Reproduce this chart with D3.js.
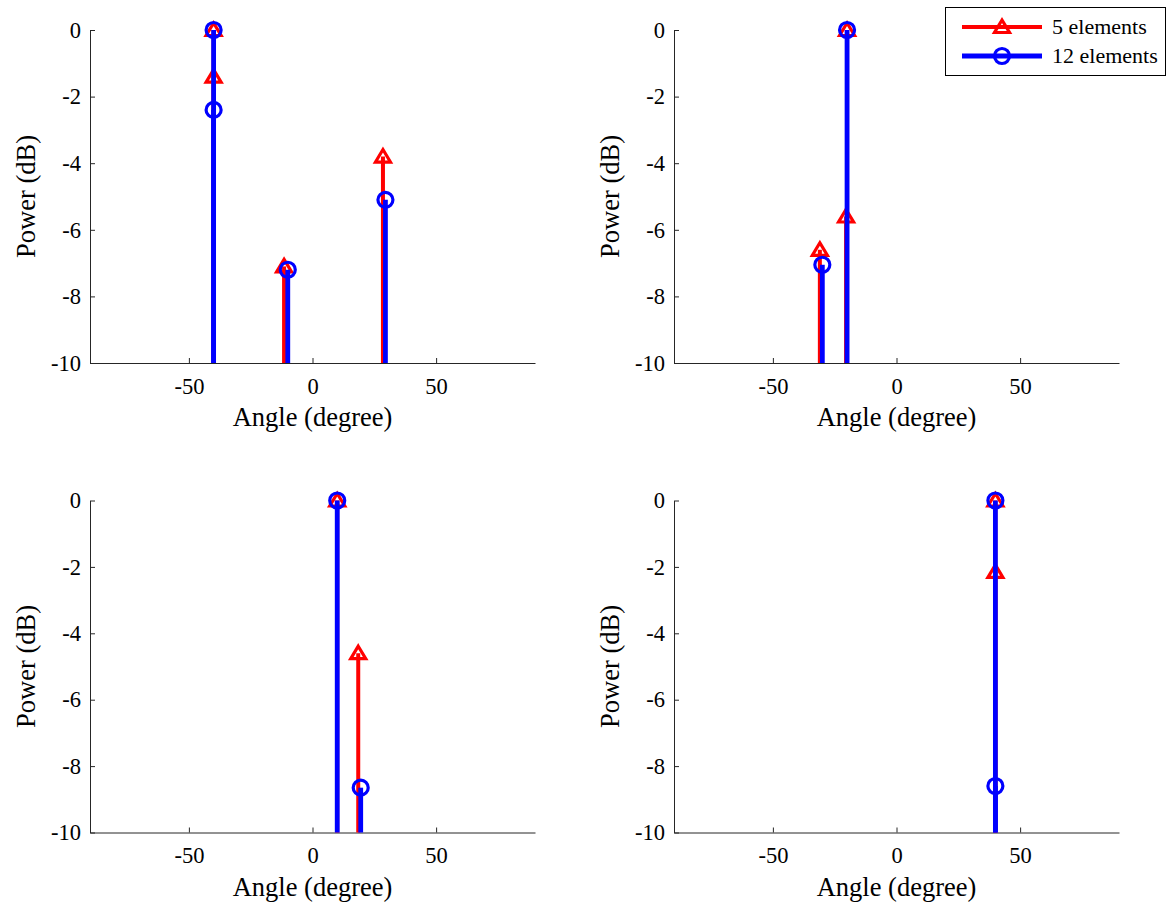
<!DOCTYPE html>
<meta charset="utf-8">
<title>Power vs angle</title>
<script src="https://cdn.jsdelivr.net/npm/d3@7"></script>
<style>
    body { margin: 0; background: #fff; }
    svg { font-family: "Liberation Serif", "Times New Roman", serif; }
    .axis path, .axis line { stroke: #262626; stroke-width: 1; }
    .axis text { fill: #000; }
    .label { font-size: 26.5px; fill: #000; }
    .legend text { font-size: 22px; fill: #000; }
</style>
<body>
<svg width="1173" height="903"></svg>

<script>
    // data
    const xTicks = [-50, 0, 50];
    const yTicks = [0, -2, -4, -6, -8, -10];
    const seriesNames = ["5 elements", "12 elements"];

    // one entry per subplot (top-left, top-right, bottom-left, bottom-right)
    const angles5 = [[-40, -40, -11.5, 28.5], [-31, -20, -20.4], [10, 18.5], [40, 40]];
    const power5 = [[0, -1.4, -7.1, -3.8], [-6.6, 0, -5.6], [0, -4.6], [0, -2.15]];
    const angles12 = [[-40, -40, -10, 29.5], [-30, -20], [10, 19.5], [40, 40]];
    const power12 = [[0, -2.4, -7.2, -5.1], [-7.05, 0], [0, -8.65], [0, -8.6]];

    const colors = ["#ff0000", "#0000ff"];
    const stemWidth = [4, 4.8];

    const svg = d3.select("svg");

    // subplot boxes
    const cols = [[90, 535], [674, 1119]];
    const rows = [[30, 363], [500.5, 832.5]];

    const triangle = "M0,-7L7.5,5.5L-7.5,5.5Z";
    const fmt = d => String(d);

    function marker(sel, s, cx, cy) {
        if (s === 0) {
            sel.append("path")
                .attr("d", triangle)
                .attr("transform", `translate(${cx},${cy})`)
                .attr("fill", "none")
                .attr("stroke", colors[0])
                .attr("stroke-width", 3.2);
        } else {
            sel.append("circle")
                .attr("cx", cx).attr("cy", cy).attr("r", 7.5)
                .attr("fill", "none")
                .attr("stroke", colors[1])
                .attr("stroke-width", 3.2);
        }
    }

    for (let p = 0; p < 4; p++) {
        const c = cols[p % 2], r = rows[Math.floor(p / 2)];

        const x = d3.scaleLinear().domain([-90, 90]).range(c);
        const y = d3.scaleLinear().domain([-10, 0]).range([r[1], r[0]]);

        const g = svg.append("g");

        g.append("g")
            .attr("class", "axis")
            .attr("transform", `translate(0,${r[1]})`)
            .call(d3.axisBottom(x).tickValues(xTicks).tickFormat(fmt)
                .tickSizeInner(-5).tickSizeOuter(0).tickPadding(15))
            .attr("font-family", "Liberation Serif, serif")
            .attr("font-size", 22.5);

        g.append("g")
            .attr("class", "axis")
            .attr("transform", `translate(${c[0]},0)`)
            .call(d3.axisLeft(y).tickValues(yTicks).tickFormat(fmt)
                .tickSizeInner(-5).tickSizeOuter(0).tickPadding(9))
            .attr("font-family", "Liberation Serif, serif")
            .attr("font-size", 22.5);

        g.append("text")
            .attr("class", "label")
            .attr("x", (c[0] + c[1]) / 2)
            .attr("y", r[1] + 63)
            .attr("text-anchor", "middle")
            .text("Angle (degree)");

        g.append("text")
            .attr("class", "label")
            .attr("transform", `translate(${c[0] - 55},${(r[0] + r[1]) / 2}) rotate(-90)`)
            .attr("text-anchor", "middle")
            .text("Power (dB)");

        // stems: 5 elements first, then 12 elements on top
        const sets = [[angles5[p], power5[p]], [angles12[p], power12[p]]];
        sets.forEach(([ang, pow], s) => {
            const pts = ang.map((a, i) => ({ a, v: pow[i] }));
            const sg = g.append("g");
            sg.selectAll("line")
                .data(pts)
                .join("line")
                .attr("x1", d => x(d.a))
                .attr("x2", d => x(d.a))
                .attr("y1", y(-10))
                .attr("y2", d => y(d.v))
                .attr("stroke", colors[s])
                .attr("stroke-width", stemWidth[s]);
            pts.forEach(d => marker(sg, s, x(d.a), y(d.v)));
        });
    }

    // legend
    const lg = svg.append("g").attr("class", "legend");
    lg.append("rect")
        .attr("x", 945.5).attr("y", 7.5)
        .attr("width", 220).attr("height", 68)
        .attr("fill", "#fff")
        .attr("stroke", "#000")
        .attr("stroke-width", 1);

    seriesNames.forEach((name, s) => {
        const ly = 27 + s * 29;
        lg.append("line")
            .attr("x1", 962).attr("x2", 1042)
            .attr("y1", ly).attr("y2", ly)
            .attr("stroke", colors[s])
            .attr("stroke-width", stemWidth[s]);
        marker(lg, s, 1002, ly);
        lg.append("text")
            .attr("x", 1052)
            .attr("y", ly + 7)
            .text(name);
    });
</script>
</body>
